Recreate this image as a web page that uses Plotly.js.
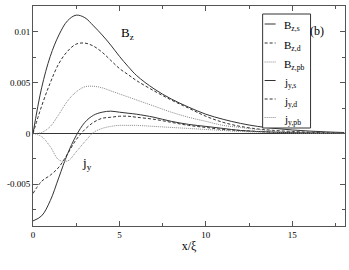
<!DOCTYPE html>
<html>
<head>
<meta charset="utf-8">
<script src="https://cdn.plot.ly/plotly-3.0.1.min.js"></script>
<style>html,body{margin:0;padding:0;background:#fff;}#chart{width:349px;height:270px;}</style>
</head>
<body>
<div id="chart"></div>
<script>
const xVals = [0,0.5,1,1.5,2,2.5,3,3.5,4,4.5,5,5.5,6,7,8,9,10,11,12,13,14,15,16,17,18];
const bzS  = [0,0.0045,0.0076,0.0097,0.0111,0.01165,0.0114,0.0106,0.0097,0.0087,0.0076,0.0066,0.0057,0.0044,0.0034,0.0026,0.0019,0.0014,0.0010,0.0007,0.0005,0.00035,0.00024,0.00016,0.0001];
const bzD  = [0,0.0027,0.0050,0.0069,0.0081,0.0088,0.0089,0.0086,0.0080,0.0072,0.0064,0.0058,0.0052,0.0042,0.0033,0.0025,0.0017,0.0011,0.0007,0.00045,0.0003,0.0002,0.00013,0.00008,0.00005];
const bzPb = [0,0.0001,0.0007,0.0019,0.0032,0.0041,0.0046,0.00465,0.0045,0.0042,0.0039,0.0036,0.0033,0.0027,0.0021,0.0016,0.0012,0.0008,0.0006,0.0004,0.00025,0.00015,0.0001,0.00006,0.00004];
const jyS  = [-0.0086,-0.0081,-0.0066,-0.0043,-0.0020,-0.0002,0.0011,0.0018,0.0021,0.0022,0.0021,0.0020,0.0019,0.0016,0.0012,0.0009,0.0007,0.0005,0.0003,0.0002,0.00013,0.00008,0.00005,0.00003,0.00002];
const jyD  = [-0.0059,-0.0047,-0.0041,-0.0033,-0.0020,-0.0006,0.0004,0.0011,0.0015,0.0016,0.0017,0.0017,0.0016,0.0014,0.0011,0.0008,0.0006,0.0004,0.0003,0.0002,0.00012,0.00008,0.00005,0.00003,0.00002];
const jyPb = [0,-0.0003,-0.0013,-0.0026,-0.0027,-0.0018,-0.0008,0.0001,0.0005,0.0007,0.0008,0.0008,0.0008,0.0007,0.0006,0.0005,0.0004,0.0003,0.0002,0.00015,0.0001,0.00006,0.00004,0.00003,0.00002];

const seriesNames = ['B<sub>z,s</sub>','B<sub>z,d</sub>','B<sub>z,pb</sub>','j<sub>y,s</sub>','j<sub>y,d</sub>','j<sub>y,pb</sub>'];
const seriesData = [bzS,bzD,bzPb,jyS,jyD,jyPb];
const xTickVals = [0,5,10,15];
const xTickText = ['0','5','10','15'];
const yTickVals = [-0.005,0,0.005,0.01];
const yTickText = ['-0.005','0','0.005','0.01'];

const styles = [
  {dash:'solid', color:'#333'},
  {dash:'3px,2px', color:'#333'},
  {dash:'1px,1px', color:'#888'},
  {dash:'solid', color:'#333'},
  {dash:'3px,2px', color:'#333'},
  {dash:'1px,1px', color:'#888'}
];

const traces = seriesData.map((y,i)=>({
  x: xVals, y: y, type:'scatter', mode:'lines', name: seriesNames[i], showlegend:false,
  line:{shape:'spline', smoothing:1, width:1, dash:styles[i].dash, color:styles[i].color}
}));

const fontFam = 'Liberation Serif, Times New Roman, serif';
const W = 349, H = 270, mL = 33, mR = 3.5, mT = 6, mB = 44;
const pw = W - mL - mR, ph = H - mT - mB;
const px2x = p => (p - mL) / pw;
const py2y = p => (H - mB - p) / ph;

// custom legend box (pixel layout -> paper coords)
const legBox = {x0:263, x1:311, y0:14, y1:128};
const legRows = [24, 43, 62, 80.5, 99, 117.5];
const shapes = [{type:'rect', xref:'paper', yref:'paper', x0:px2x(legBox.x0), x1:px2x(legBox.x1), y0:py2y(legBox.y1), y1:py2y(legBox.y0),
  line:{color:'#333', width:1}, fillcolor:'#fff', layer:'above'}];
const annotations = [
  {x:5.45, y:0.0098, xref:'x', yref:'y', text:'B<sub>z</sub>', showarrow:false, font:{family:fontFam, size:13}},
  {x:3.14, y:-0.0029, xref:'x', yref:'y', text:'j<sub>y</sub>', showarrow:false, font:{family:fontFam, size:13}},
  {x:px2x(326), y:py2y(22), xref:'paper', yref:'paper', text:'(b)', showarrow:false, font:{family:fontFam, size:12}}
];
seriesNames.forEach((nm,i)=>{
  const ry = legRows[i];
  shapes.push({type:'line', xref:'paper', yref:'paper', x0:px2x(265), x1:px2x(276), y0:py2y(ry), y1:py2y(ry),
    line:{color:styles[i].color, width:1, dash:styles[i].dash}, layer:'above'});
  annotations.push({x:px2x(282), y:py2y(ry+2.5), xref:'paper', yref:'paper', xanchor:'left', yanchor:'middle',
    text:nm, showarrow:false, font:{family:fontFam, size:11}});
});

const layout = {
  width:W, height:H,
  margin:{l:mL, r:mR, t:mT, b:mB},
  paper_bgcolor:'#fff', plot_bgcolor:'#fff',
  font:{family:fontFam, size:9, color:'#000'},
  showlegend:false,
  xaxis:{range:[0,18.05], showgrid:false, zeroline:false, showline:true, linecolor:'#555', linewidth:1, mirror:'ticks',
         ticks:'inside', ticklen:5, tickcolor:'#555', tickvals:xTickVals, ticktext:xTickText,
         minor:{ticks:'inside', ticklen:3, dtick:2.5, tickcolor:'#555', showgrid:false},
         title:{text:'x/ξ', font:{family:fontFam, size:12}, standoff:2}},
  yaxis:{range:[-0.0091,0.01255], showgrid:false, zeroline:true, zerolinecolor:'#333', zerolinewidth:1,
         showline:true, linecolor:'#555', linewidth:1, mirror:'ticks',
         ticks:'inside', ticklen:5, tickcolor:'#555', tickvals:yTickVals, ticktext:yTickText,
         minor:{ticks:'inside', ticklen:3, dtick:0.0025, tickcolor:'#555', showgrid:false}},
  shapes: shapes,
  annotations: annotations
};
Plotly.newPlot('chart', traces, layout, {staticPlot:true, displayModeBar:false});
</script>
</body>
</html>
